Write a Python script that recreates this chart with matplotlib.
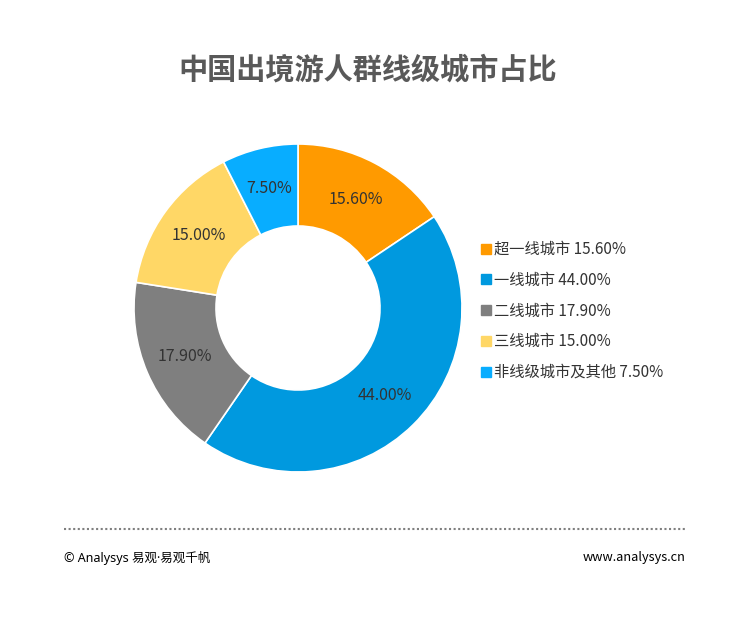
import matplotlib as mpl
mpl.use('Agg')
import matplotlib.pyplot as plt
from matplotlib.lines import Line2D

plt.rcParams['font.family'] = ['Noto Sans CJK SC', 'DejaVu Sans']

# 數據
categories = ['超一线城市', '一线城市', '二线城市', '三线城市', '非线级城市及其他']
shares = [15.6, 44.0, 17.9, 15.0, 7.5]
colors = ['#FF9A00', '#0099DF', '#7F7F7F', '#FFD766', '#08ADFF']

W, H = 745, 619
fig = plt.figure(figsize=(W / 100, H / 100), dpi=100)
fig.patch.set_facecolor('white')

# 甜甜圈圖，中心 (298, 308)，半徑 164 px
cx, cy, r = 298, 308, 164
ax = fig.add_axes([(cx - r) / W, (H - cy - r) / H, 2 * r / W, 2 * r / H])
wedges, texts, autotexts = ax.pie(
    shares, colors=colors, startangle=90, counterclock=False,
    autopct='%.2f%%', pctdistance=0.75,
    wedgeprops=dict(width=0.5, edgecolor='white', linewidth=1.2),
    textprops=dict(color='#333333', fontsize=11.5))
ax.set_xlim(-1, 1)
ax.set_ylim(-1, 1)

# 圖例
handles = [Line2D([], [], marker='s', linestyle='', markersize=7,
                  markerfacecolor=c, markeredgecolor=c) for c in colors]
labels = ['%s %.2f%%' % (n, v) for n, v in zip(categories, shares)]
fig.legend(handles, labels, loc='center left',
           bbox_to_anchor=(466 / W, 1 - 311 / H), frameon=False,
           fontsize=11, labelspacing=0.9, handlelength=0.8,
           handletextpad=0.15, labelcolor='#333333')

# 標題
fig.text(368 / W, 1 - 70 / H, '中国出境游人群线级城市占比', ha='center', va='center',
         fontsize=21, fontweight='bold', color='#595959')

# 頁尾
fig.add_artist(Line2D([64 / W, 686 / W], [1 - 529 / H, 1 - 529 / H],
                      color='#7F7F7F', linestyle=(0, (1, 1.2)), linewidth=1.5))
fig.text(64 / W, 1 - 558 / H, '© Analysys 易观·易观千帆', ha='left', va='center',
         fontsize=9, color='black', family=['Noto Sans', 'Noto Sans CJK SC'])
fig.text(686 / W, 1 - 558 / H, 'www.analysys.cn', ha='right', va='center',
         fontsize=9.2, color='black')

plt.savefig('out.png', dpi=100)
plt.close()
